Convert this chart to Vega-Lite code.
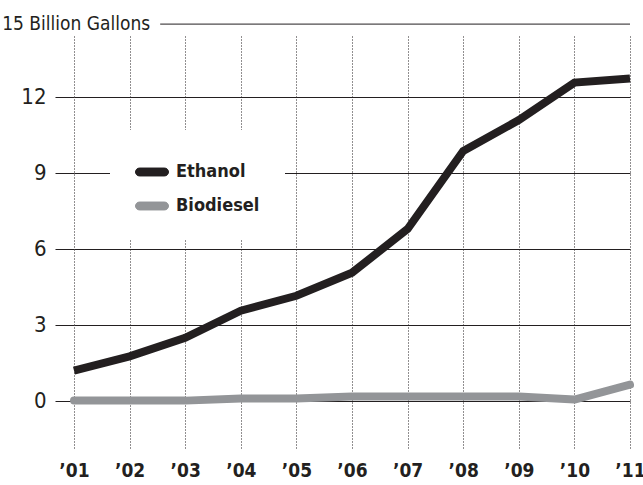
{
  "$schema": "https://vega.github.io/schema/vega-lite/v6.json",
  "width": 556,
  "height": 414,
  "autosize": {"type": "none"},
  "padding": {"left": 74, "top": 36, "right": 13, "bottom": 35},
  "background": "white",
  "config": {
    "view": {"stroke": null},
    "font": "DejaVu Sans Condensed, sans-serif",
    "axisX": {
      "grid": true,
      "gridDash": [1, 2],
      "gridColor": "#231f20",
      "gridWidth": 1,
      "domain": false,
      "ticks": false,
      "labelFontSize": 19,
      "labelFontWeight": "bold",
      "labelColor": "#231f20",
      "labelPadding": 11,
      "labelDx": 5,
      "labelOverlap": false,
      "labelFlush": false,
      "title": null
    },
    "axisY": {
      "grid": true,
      "gridColor": "#231f20",
      "gridWidth": 1,
      "domain": false,
      "ticks": true,
      "tickSize": 19,
      "tickColor": "#231f20",
      "tickWidth": 1,
      "labelFontSize": 22,
      "labelColor": "#231f20",
      "labelPadding": 9,
      "title": null
    }
  },
  "datasets": {
    "series": [
      {"year": 2001, "fuel": "Ethanol", "value": 1.18},
      {"year": 2002, "fuel": "Ethanol", "value": 1.75},
      {"year": 2003, "fuel": "Ethanol", "value": 2.48},
      {"year": 2004, "fuel": "Ethanol", "value": 3.55},
      {"year": 2005, "fuel": "Ethanol", "value": 4.14},
      {"year": 2006, "fuel": "Ethanol", "value": 5.05},
      {"year": 2007, "fuel": "Ethanol", "value": 6.78},
      {"year": 2008, "fuel": "Ethanol", "value": 9.86},
      {"year": 2009, "fuel": "Ethanol", "value": 11.08},
      {"year": 2010, "fuel": "Ethanol", "value": 12.56},
      {"year": 2011, "fuel": "Ethanol", "value": 12.72},
      {"year": 2001, "fuel": "Biodiesel", "value": 0.0},
      {"year": 2002, "fuel": "Biodiesel", "value": 0.0},
      {"year": 2003, "fuel": "Biodiesel", "value": 0.0},
      {"year": 2004, "fuel": "Biodiesel", "value": 0.08},
      {"year": 2005, "fuel": "Biodiesel", "value": 0.08},
      {"year": 2006, "fuel": "Biodiesel", "value": 0.16},
      {"year": 2007, "fuel": "Biodiesel", "value": 0.16},
      {"year": 2008, "fuel": "Biodiesel", "value": 0.16},
      {"year": 2009, "fuel": "Biodiesel", "value": 0.16},
      {"year": 2010, "fuel": "Biodiesel", "value": 0.04},
      {"year": 2011, "fuel": "Biodiesel", "value": 0.63}
    ],
    "top": [
      {"label": "15 Billion Gallons", "value": 14.87, "year": 2002.55, "year2": 2011, "labelYear": 2002.37}
    ]
  },
  "layer": [
    {
      "data": {"name": "top"},
      "mark": {"type": "rule", "color": "#231f20", "strokeWidth": 1},
      "encoding": {
        "x": {"field": "year", "type": "quantitative", "scale": {"domain": [2001, 2011], "nice": false, "zero": false}},
        "x2": {"field": "year2"},
        "y": {"field": "value", "type": "quantitative", "scale": {"domain": [-1.95, 14.4], "nice": false, "zero": false}}
      }
    },
    {
      "data": {"name": "top"},
      "mark": {"type": "text", "align": "right", "baseline": "middle", "fontSize": 19, "color": "#231f20"},
      "encoding": {
        "x": {"field": "labelYear", "type": "quantitative"},
        "y": {"field": "value", "type": "quantitative"},
        "text": {"field": "label"}
      }
    },
    {
      "data": {"name": "series"},
      "transform": [{"filter": "datum.fuel === 'Biodiesel'"}],
      "mark": {"type": "line", "strokeWidth": 8, "strokeCap": "round", "strokeJoin": "round"},
      "encoding": {
        "x": {"field": "year", "type": "quantitative"},
        "y": {"field": "value", "type": "quantitative"},
        "color": {"field": "fuel", "type": "nominal"}
      }
    },
    {
      "data": {"name": "series"},
      "transform": [{"filter": "datum.fuel === 'Ethanol'"}],
      "mark": {"type": "line", "strokeWidth": 8, "strokeCap": "butt", "strokeJoin": "miter"},
      "encoding": {
        "x": {
          "field": "year",
          "type": "quantitative",
          "axis": {
            "values": [2001, 2002, 2003, 2004, 2005, 2006, 2007, 2008, 2009, 2010, 2011],
            "labelExpr": "'’' + slice(toString(datum.value), 2)"
          }
        },
        "y": {
          "field": "value",
          "type": "quantitative",
          "axis": {"values": [0, 3, 6, 9, 12]}
        },
        "color": {
          "field": "fuel",
          "type": "nominal",
          "scale": {"domain": ["Ethanol", "Biodiesel"], "range": ["#231f20", "#939598"]},
          "legend": {
            "title": null,
            "orient": "none",
            "legendX": 36,
            "legendY": 94,
            "padding": 25,
            "fillColor": "white",
            "strokeColor": null,
            "symbolType": "M-0.76,-0.24 L0.76,-0.24 A0.24,0.24 0 0 1 0.76,0.24 L-0.76,0.24 A0.24,0.24 0 0 1 -0.76,-0.24 Z",
            "symbolSize": 1089,
            "symbolStrokeWidth": 1,
            "labelFontSize": 18,
            "labelFontWeight": "bold",
            "labelColor": "#231f20",
            "labelOffset": 7,
            "rowPadding": 8,
            "encode": {
              "symbols": {
                "update": {
                  "fill": {"scale": "color", "field": "value"},
                  "stroke": {"value": "#231f20"},
                  "strokeWidth": {"value": 1}
                }
              }
            }
          }
        }
      }
    }
  ]
}
